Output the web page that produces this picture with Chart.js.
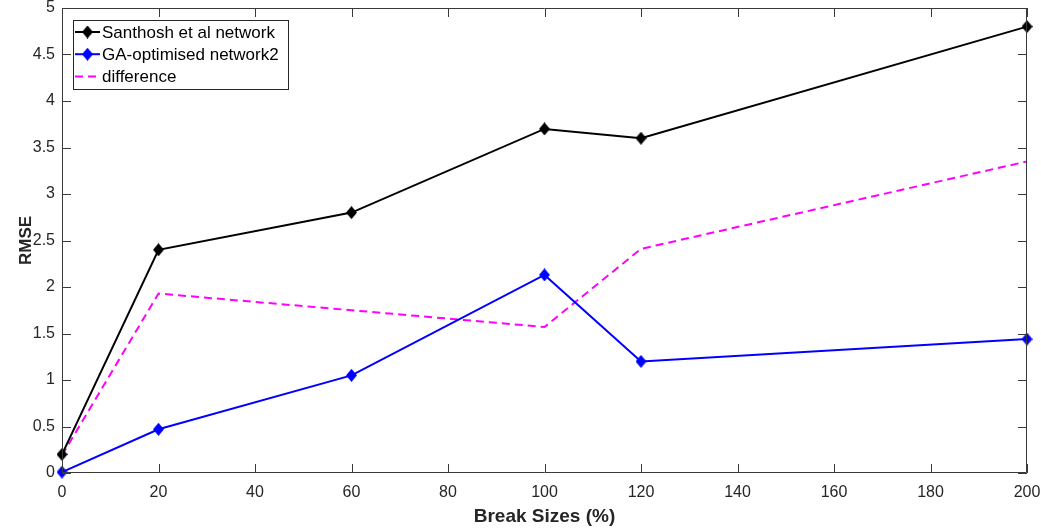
<!DOCTYPE html>
<html>
<head>
<meta charset="utf-8">
<script src="https://cdn.jsdelivr.net/npm/chart.js@4.4.0/dist/chart.umd.min.js"></script>
<style>
  html, body { margin: 0; padding: 0; background: #fff; }
  #wrap { width: 1041px; height: 531px; }
</style>
</head>
<body>
<div id="wrap"><canvas id="plot"></canvas></div>
<script>
// Break sizes (%) and RMSE for each network
const breakSizes = [0, 20, 60, 100, 120, 200];
const santhosh = [0.2, 2.4, 2.8, 3.7, 3.6, 4.8];
const gaNetwork = [0.01, 0.47, 1.05, 2.13, 1.2, 1.44];
const difference = [0.19, 1.93, 1.75, 1.57, 2.41, 3.35];
const seriesNames = ["Santhosh et al network", "GA-optimised network2", "difference"];

const axisColor = "#262626";
const fontFamily = "'Liberation Sans', Arial, Helvetica, sans-serif";

// tall diamond like matlab's 'd' marker
function diamond(color) {
  const c = document.createElement("canvas");
  c.width = 11; c.height = 13;
  const g = c.getContext("2d");
  g.fillStyle = color;
  g.beginPath();
  g.moveTo(5.5, 0); g.lineTo(11, 6.5); g.lineTo(5.5, 13); g.lineTo(0, 6.5);
  g.closePath();
  g.fill();
  return c;
}

const toPoints = (ys) => breakSizes.map((x, i) => ({ x: x, y: ys[i] }));

// no extra room for half tick labels, the plot box is fixed
const noPad = (s) => {
  s.paddingTop = 0; s.paddingBottom = 0; s.paddingLeft = 0; s.paddingRight = 0;
};

// box + inward ticks + legend, matlab style
const matlabBox = {
  id: "matlabBox",
  afterDraw(chart) {
    const ctx = chart.ctx;
    const a = chart.chartArea;
    const xs = chart.scales.x, ys = chart.scales.y;
    ctx.save();
    ctx.strokeStyle = "#3a3a3a";
    ctx.lineWidth = 1;
    ctx.beginPath();
    ctx.rect(a.left + 0.5, a.top + 0.5, a.right - a.left - 1, a.bottom - a.top - 1);
    ctx.stroke();
    ctx.beginPath();
    xs.ticks.forEach((t) => {
      const px = Math.round(xs.getPixelForValue(t.value)) + 0.5;
      ctx.moveTo(px, a.bottom); ctx.lineTo(px, a.bottom - 9);
      ctx.moveTo(px, a.top); ctx.lineTo(px, a.top + 9);
    });
    ys.ticks.forEach((t) => {
      const py = Math.round(ys.getPixelForValue(t.value)) + 0.5;
      ctx.moveTo(a.left, py); ctx.lineTo(a.left + 9, py);
      ctx.moveTo(a.right, py); ctx.lineTo(a.right - 9, py);
    });
    ctx.stroke();

    // legend box
    const lx = a.left + 11, ly = a.top + 12, lw = 215, lh = 69;
    ctx.fillStyle = "#fff";
    ctx.fillRect(lx, ly, lw, lh);
    ctx.strokeStyle = axisColor;
    ctx.strokeRect(lx + 0.5, ly + 0.5, lw, lh);
    ctx.font = "17px " + fontFamily;
    ctx.textBaseline = "middle";
    chart.data.datasets.forEach((ds, i) => {
      const cy = ly + 12 + i * 22.2;
      ctx.strokeStyle = ds.borderColor;
      ctx.lineWidth = 2;
      ctx.setLineDash(ds.borderDash || []);
      ctx.beginPath();
      ctx.moveTo(lx + 2, cy); ctx.lineTo(lx + 27, cy);
      ctx.stroke();
      ctx.setLineDash([]);
      if (ds.pointStyle && ds.pointRadius > 0) {
        ctx.drawImage(ds.pointStyle, lx + 14.5 - 5.5, cy - 6.5);
      }
      ctx.fillStyle = "#000";
      ctx.fillText(ds.label, lx + 29, cy + 1);
    });
    ctx.restore();
  },
};

new Chart(document.getElementById("plot"), {
  type: "line",
  plugins: [matlabBox],
  data: {
    datasets: [
      {
        label: seriesNames[0],
        data: toPoints(santhosh),
        borderColor: "#000000",
        backgroundColor: "#000000",
        borderWidth: 2,
        pointStyle: diamond("#000000"),
        pointRadius: 6,
      },
      {
        label: seriesNames[1],
        data: toPoints(gaNetwork),
        borderColor: "#0000ff",
        backgroundColor: "#0000ff",
        borderWidth: 2,
        pointStyle: diamond("#0000ff"),
        pointRadius: 6,
      },
      {
        label: seriesNames[2],
        data: toPoints(difference),
        borderColor: "#ff00ff",
        backgroundColor: "#ff00ff",
        borderWidth: 2,
        borderDash: [8, 5],
        pointRadius: 0,
      },
    ],
  },
  options: {
    responsive: true,
    maintainAspectRatio: false,
    animation: false,
    clip: false,
    layout: { padding: { top: 6, right: 14, left: 0, bottom: 0 } },
    plugins: { legend: { display: false }, tooltip: { enabled: false } },
    scales: {
      x: {
        type: "linear",
        min: 0,
        max: 200,
        afterFit: (s) => { s.height = 58; noPad(s); },
        ticks: { stepSize: 20, color: axisColor, padding: 10, maxRotation: 0,
                 font: { size: 16, family: fontFamily } },
        grid: { display: false, drawTicks: false },
        border: { display: false },
        title: { display: true, text: "Break Sizes (%)", color: axisColor, padding: { top: 6, bottom: 3 },
                 font: { size: 19, weight: "bold", family: fontFamily } },
      },
      y: {
        min: 0,
        max: 5,
        afterFit: (s) => { s.width = 62; noPad(s); },
        ticks: { stepSize: 0.5, color: axisColor, padding: 7,
                 callback: (v) => String(+v.toFixed(1)),
                 font: { size: 16, family: fontFamily } },
        grid: { display: false, drawTicks: false },
        border: { display: false },
        title: { display: true, text: "RMSE", color: axisColor, padding: { top: 16, bottom: 0 },
                 font: { size: 17, weight: "bold", family: fontFamily } },
      },
    },
  },
});
</script>
</body>
</html>
